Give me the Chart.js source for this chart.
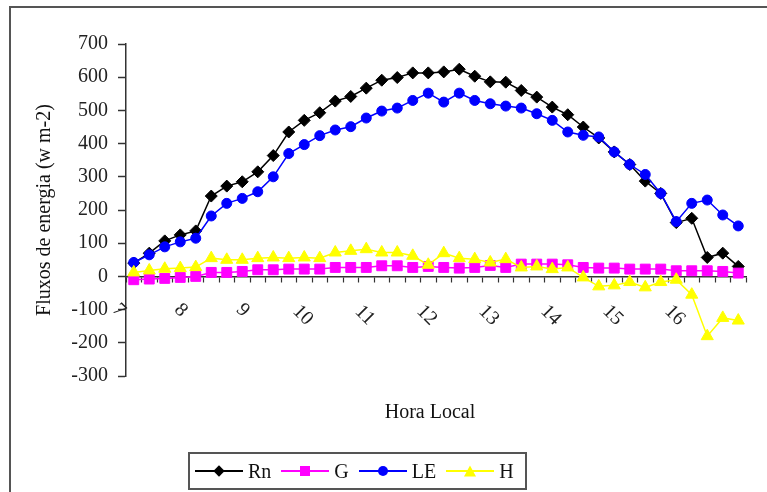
<!DOCTYPE html>
<html>
<head>
<meta charset="utf-8">
<script src="https://cdn.jsdelivr.net/npm/chart.js@4.4.0/dist/chart.umd.min.js"></script>
<style>
  html, body { margin: 0; padding: 0; background: #fff; }
  #wrap { position: relative; width: 767px; height: 492px; overflow: hidden; }
  #frame { position: absolute; left: 9px; top: 6px; width: 800px; height: 520px;
           border-top: 2px solid #555; border-left: 2px solid #555; }
  #chart { position: absolute; left: 0; top: 0; }
  #legend { position: absolute; left: 188px; top: 452px; width: 335px; height: 34px;
            border: 2px solid #555; display: flex; align-items: center;
            font: 20px "Liberation Serif", serif; color: #111; }
  .item { display: flex; align-items: center; margin-left: 5px; margin-right: 5px; }
  .sample { position: relative; width: 48px; height: 20px; }
  .sample .ln { position: absolute; left: 0; right: 0; top: 9px; height: 1.5px; }
  .sample .mk { position: absolute; left: 50%; top: 50%; transform: translate(-50%, -50%); }
  .item span.txt { margin-left: 5px; }
</style>
</head>
<body>
<div id="wrap">
  <div id="frame"></div>
  <canvas id="chart" width="767" height="492"></canvas>
  <div id="legend"></div>
</div>
<script>
// categories: 15 minute steps, hour labels shown on the axis
const categories = [
    '7:00', '7:15', '7:30', '7:45', '8:00', '8:15', '8:30', '8:45',
    '9:00', '9:15', '9:30', '9:45', '10:00', '10:15', '10:30', '10:45',
    '11:00', '11:15', '11:30', '11:45', '12:00', '12:15', '12:30', '12:45',
    '13:00', '13:15', '13:30', '13:45', '14:00', '14:15', '14:30', '14:45',
    '15:00', '15:15', '15:30', '15:45', '16:00', '16:15', '16:30', '16:45'
];

const rn = [40, 70, 107, 125, 137, 242, 272, 285, 315, 364, 435, 470, 493, 528, 542, 567, 591, 599, 613, 613,
            616, 624, 603, 586, 585, 560, 540, 510, 487, 450, 417, 375, 337, 287, 250, 162, 175, 57, 70, 30];
const g  = [-10, -8, -6, -3, 0, 12, 12, 15, 20, 20, 22, 22, 22, 27, 27, 27, 32, 32, 27, 30,
            27, 25, 27, 33, 27, 37, 37, 37, 35, 27, 25, 25, 22, 22, 22, 17, 17, 17, 15, 10];
const le = [42, 65, 89, 104, 115, 182, 220, 235, 255, 300, 370, 397, 424, 441, 451, 477, 498, 507, 530, 552,
            525, 552, 530, 520, 513, 507, 490, 470, 435, 425, 420, 375, 337, 307, 250, 165, 220, 230, 185, 152];
const h  = [12, 18, 23, 25, 28, 55, 50, 50, 55, 57, 55, 57, 55, 72, 77, 82, 72, 72, 62, 35,
            70, 55, 52, 42, 52, 27, 30, 22, 27, -3, -30, -27, -17, -33, -17, -10, -55, -180, -125, -133];

const yTicks = { min: -300, max: 700, step: 100 };

const series = [
    { label: 'Rn', data: rn, color: '#000000', style: 'rectRot', radius: 6, order: 4 },
    { label: 'G',  data: g,  color: '#ff00ff', style: 'rect',    radius: 7, order: 3 },
    { label: 'LE', data: le, color: '#0000ff', style: 'circle',  radius: 5, order: 2 },
    { label: 'H',  data: h,  color: '#ffff00', style: 'triangle', radius: 7, order: 1 }
];

const serif = '"Liberation Serif", serif';

// hour labels rotated clockwise + x axis title
const xLabels = {
    id: 'xLabels',
    afterDraw(chart) {
        const ctx = chart.ctx;
        const xs = chart.scales.x;
        const y0 = chart.scales.y.getPixelForValue(0);
        ctx.save();
        ctx.fillStyle = '#222';
        ctx.font = '20px ' + serif;
        ctx.textAlign = 'center';
        ctx.textBaseline = 'middle';
        categories.forEach((c, i) => {
            if (!c.endsWith(':00')) return;
            const txt = c.split(':')[0];
            const n = txt.length - 1;
            ctx.save();
            ctx.translate(xs.getPixelForValue(i) - 15 - n * 2, y0 + 34 + n * 5);
            ctx.rotate(Math.PI / 4);
            ctx.fillText(txt, 0, 0);
            ctx.restore();
        });
        const ca = chart.chartArea;
        ctx.fillStyle = '#111';
        ctx.fillText('Hora Local', (ca.left + ca.right) / 2 - 6, 413);
        ctx.restore();
    }
};

new Chart(document.getElementById('chart'), {
    type: 'line',
    data: {
        labels: categories,
        datasets: series.map(s => ({
            label: s.label,
            data: s.data,
            borderColor: s.color,
            backgroundColor: s.color,
            borderWidth: 1.5,
            pointStyle: s.style,
            pointRadius: s.radius,
            pointBorderWidth: 1,
            pointBorderColor: s.color,
            pointBackgroundColor: s.color,
            tension: 0,
            fill: false,
            order: s.order
        }))
    },
    options: {
        responsive: false,
        animation: false,
        layout: { padding: { left: 33, right: 21, top: 44, bottom: 116 } },
        plugins: {
            legend: { display: false },
            tooltip: { enabled: false }
        },
        scales: {
            x: {
                type: 'category',
                offset: true,
                position: { y: 0 },
                ticks: { display: false },
                grid: { offset: true, drawOnChartArea: false, tickLength: 5, tickColor: '#333', tickWidth: 1.2 },
                border: { color: '#333', width: 1.5 }
            },
            y: {
                min: yTicks.min,
                max: yTicks.max,
                ticks: { stepSize: yTicks.step, color: '#222', padding: 10, font: { family: serif, size: 20 } },
                grid: { drawOnChartArea: false, tickLength: 8, tickColor: '#333', tickWidth: 1.5 },
                border: { color: '#333', width: 1.5 },
                title: {
                    display: true,
                    text: 'Fluxos de energia (w m-2)',
                    color: '#111',
                    font: { family: serif, size: 20 },
                    padding: { top: 0, bottom: 16 }
                },
                afterFit(scale) { scale.width = 93; }
            }
        }
    },
    plugins: [xLabels]
});

// legend: line with marker in the middle, like the original
const markerCss = {
    rectRot: c => `width:8px;height:8px;background:${c};transform:translate(-50%,-50%) rotate(45deg);`,
    rect: c => `width:10px;height:10px;background:${c};`,
    circle: c => `width:10px;height:10px;border-radius:50%;background:${c};`,
    triangle: c => `width:0;height:0;border-left:6px solid transparent;border-right:6px solid transparent;border-bottom:11px solid ${c};`
};
const legend = document.getElementById('legend');
series.forEach(s => {
    const item = document.createElement('div');
    item.className = 'item';
    item.innerHTML = `<div class="sample"><div class="ln" style="background:${s.color}"></div>` +
        `<div class="mk" style="${markerCss[s.style](s.color)}"></div></div><span class="txt">${s.label}</span>`;
    legend.appendChild(item);
});
</script>
</body>
</html>
